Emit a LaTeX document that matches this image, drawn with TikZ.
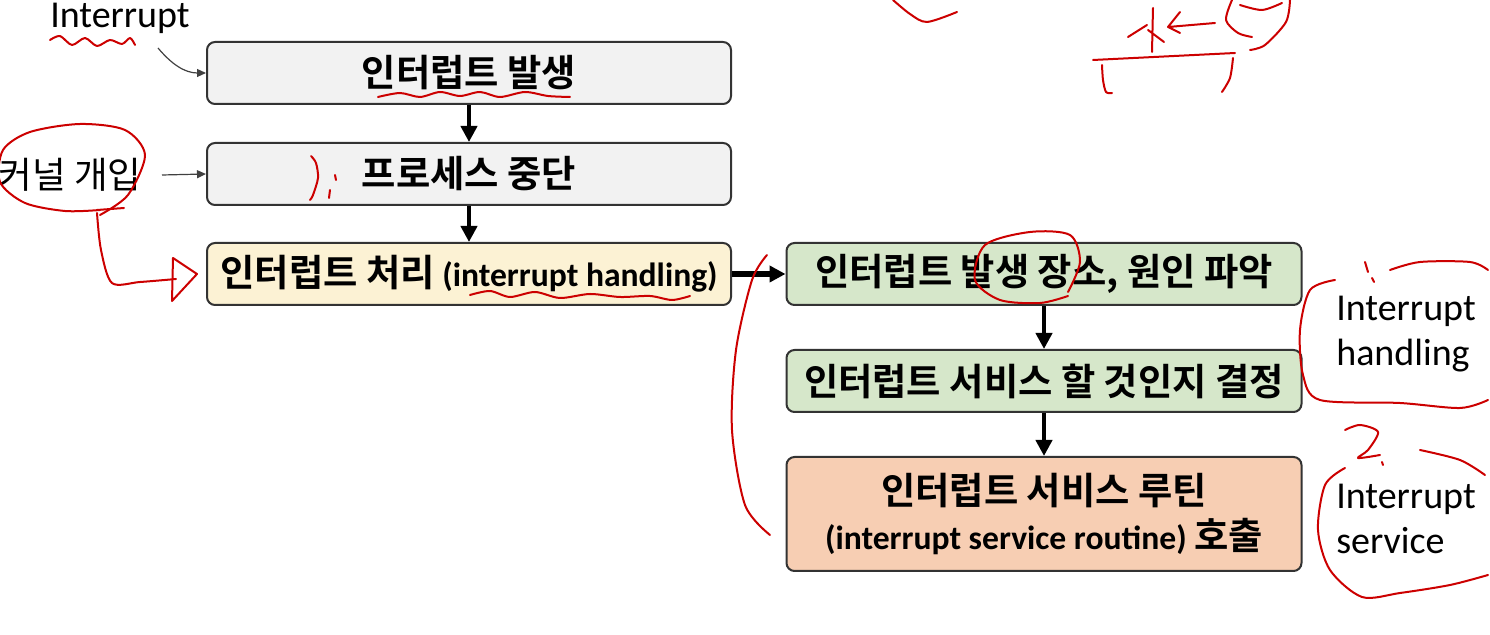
\documentclass[tikz,border=0pt]{standalone}
\usepackage{fontspec}
\setmainfont{Carlito}
\newfontfamily\kr{Noto Sans CJK KR}[BoldFont={Noto Sans CJK KR Bold}, Scale=1.11]
\usetikzlibrary{arrows.meta}
\definecolor{boxgray}{HTML}{F2F2F2}
\definecolor{boxyellow}{HTML}{FCF2D4}
\definecolor{boxgreen}{HTML}{D6E7CA}
\definecolor{boxpeach}{HTML}{F7CEB3}

\begin{document}
\begin{tikzpicture}[
    x=0.5pt, y=-0.5pt,
    stepbox/.style={draw=black!80, line width=1pt, rounded corners=4pt, minimum width=262pt, minimum height=31pt,
        inner sep=2pt, align=center, font=\fontsize{16.8}{22.5}\selectfont\bfseries},
    rightbox/.style={stepbox, minimum width=257.5pt, fill=boxgreen},
    flow/.style={-{Triangle[length=8pt,width=8pt]}, line width=2.2pt},
    thin/.style={-{Triangle[length=4.5pt,width=4pt]}, black!75, line width=0.6pt},
    side/.style={align=left, font=\fontsize{19}{22.5}\selectfont},
    annot/.style={red!80!black, line width=1pt, line cap=round, line join=round}
]
    \useasboundingbox (0,0) rectangle (1490,635);

    % main flow
    \node[stepbox, fill=boxgray] (occur) at (469,73) {\kr 인터럽트 발생};
    \node[stepbox, fill=boxgray] (stop) at (469,174) {\kr 프로세스 중단};
    \node[stepbox, fill=boxyellow] (handle) at (469,274) {{\kr 인터럽트 처리} (interrupt handling)};
    \node[rightbox] (cause) at (1044,274) {\kr 인터럽트 발생 장소, 원인 파악};
    \node[rightbox] (decide) at (1044,381) {\kr 인터럽트 서비스 할 것인지 결정};
    \node[rightbox, fill=boxpeach, minimum height=57pt] (isr) at (1044,514)
        {{\kr 인터럽트 서비스 루틴}\\(interrupt service routine) {\kr 호출}};

    \draw[flow] (occur) -- (stop);
    \draw[flow] (stop) -- (handle);
    \draw[flow, line width=2.6pt] (handle) -- (cause);
    \draw[flow] (cause) -- (decide);
    \draw[flow] (decide) -- (isr);

    % side labels
    \node[side] (intr) at (120,18) {Interrupt};
    \node[side, font=\fontsize{16.5}{20}\selectfont\kr] (kernel) at (70,175) {커널 개입};
    \node[side] (hlabel) at (1406,334) {Interrupt\\handling};
    \node[side] (slabel) at (1406,519) {Interrupt\\service};
    \coordinate (bend) at (158,48);
    \coordinate (kstart) at (162,175);

    \draw[thin] (bend) to[out=-50, in=180] (occur.west);
    \draw[thin] (kstart) -- (stop.west);

    % pen marks
    \draw[annot] plot[smooth] coordinates {(50,40) (60,36) (72,45) (85,38) (97,46) (110,40) (122,44) (130,38) (135,45)};
    \draw[annot] plot[smooth] coordinates {(378,97) (400,93) (420,97) (440,92) (460,96) (480,92) (500,97) (525,92) (548,96) (570,97)};
    \draw[annot] plot[smooth] coordinates {(311,156) (316,163) (318,178) (313,195) (310,200)};
    \draw[annot] (335,175) -- (336,180) (330,190) -- (329,198);
    \draw[annot] plot[smooth] coordinates {(100,215) (128,195) (145,155) (125,130) (80,124) (30,132) (3,150) (0,182) (25,203) (65,211) (100,210)};
    \draw[annot] (97,210) -- (124,208);
    \draw[annot] plot[smooth] coordinates {(97,213) (101,250) (112,283) (140,282) (176,279)};
    \draw[annot] (173,258) -- (197,274) -- (172,301) -- cycle;
    \draw[annot] plot[smooth] coordinates {(470,295) (490,291) (510,297) (535,292) (560,298) (590,294) (620,297) (650,296) (672,300) (690,296)};
    \draw[annot] plot[smooth] coordinates {(1068,296) (1040,303) (1000,300) (975,280) (985,245) (1030,232) (1070,235) (1080,262) (1068,292)};
    \draw[annot] plot[smooth] coordinates {(770,535) (745,505) (732,430) (736,350) (752,280) (767,255)};
    \draw[annot] plot[smooth] coordinates {(1390,270) (1420,262) (1470,262) (1488,270)};
    \draw[annot] plot[smooth] coordinates {(1335,280) (1310,290) (1300,330) (1303,375) (1320,400) (1400,403) (1460,408) (1488,400)};
    \draw[annot] (1365,262) -- (1368,272) (1372,278) -- (1374,282);
    \draw[annot] plot[smooth] coordinates {(1345,430) (1360,425) (1378,432) (1368,450) (1358,458) (1380,455)};
    \draw[annot] (1382,462) -- (1383,465);
    \draw[annot] plot[smooth] coordinates {(1345,468) (1325,485) (1318,530) (1330,570) (1362,597) (1400,593) (1450,585) (1488,575)};
    \draw[annot] plot[smooth] coordinates {(1420,450) (1460,460) (1485,475)};
    \draw[annot] (1093,60) -- (1235,53);
    \draw[annot] plot[smooth] coordinates {(1102,65) (1103,80) (1106,92) (1112,93)};
    \draw[annot] plot[smooth] coordinates {(1233,58) (1230,78) (1222,92)};
    \draw[annot] (1215,23) -- (1168,27) (1180,12) -- (1168,27) -- (1180,33);
    \draw[annot] (1153,8) -- (1152,52) (1128,37) -- (1147,25) (1148,30) -- (1164,42);
    \draw[annot] plot[smooth] coordinates {(1232,0) (1226,20) (1238,33) (1252,37)};
    \draw[annot] plot[smooth] coordinates {(1290,0) (1286,22) (1265,45) (1250,50)};
    \draw[annot] plot[smooth] coordinates {(1240,5) (1262,10) (1282,3)};
    \draw[annot] plot[smooth] coordinates {(893,0) (910,14) (927,22) (957,12)};
\end{tikzpicture}
\end{document}
